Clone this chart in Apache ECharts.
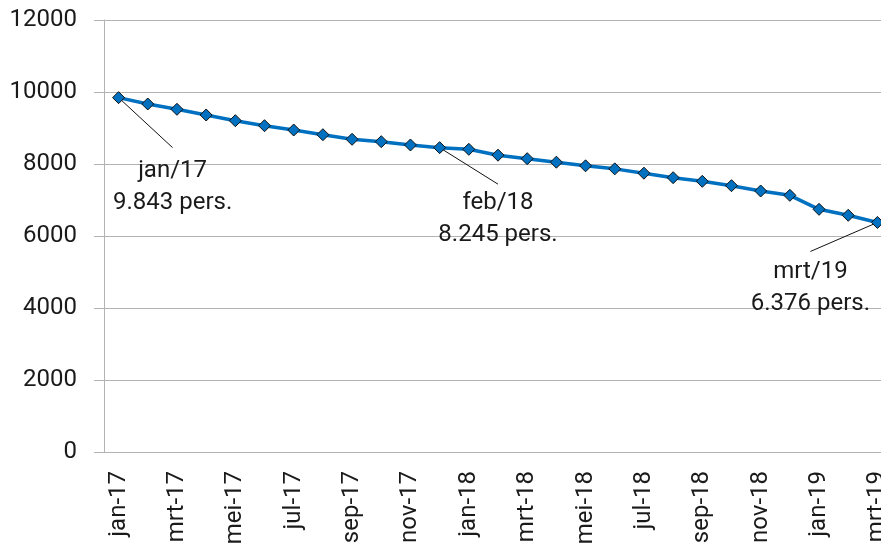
<!DOCTYPE html>
<html>
<head>
<meta charset="utf-8">
<script src="https://cdn.jsdelivr.net/npm/echarts@6/dist/echarts.min.js"></script>
<style>
  html, body { margin: 0; padding: 0; background: #fff; }
  #chart { width: 881px; height: 545px; }
</style>
</head>
<body>
<div id="chart"></div>
<script>
  const months = [
    'jan-17', 'feb-17', 'mrt-17', 'apr-17', 'mei-17', 'jun-17', 'jul-17', 'aug-17', 'sep-17',
    'okt-17', 'nov-17', 'dec-17', 'jan-18', 'feb-18', 'mrt-18', 'apr-18', 'mei-18', 'jun-18',
    'jul-18', 'aug-18', 'sep-18', 'okt-18', 'nov-18', 'dec-18', 'jan-19', 'feb-19', 'mrt-19'
  ]
  const persons = [
    9843, 9667, 9519, 9361, 9203, 9064, 8944, 8814, 8686,
    8620, 8528, 8454, 8408, 8245, 8148, 8050, 7950, 7865,
    7745, 7620, 7519, 7398, 7250, 7130, 6741, 6575, 6376
  ]
  const yMin = 0
  const yMax = 12000
  const yStep = 2000
  // months that get a callout label
  const calloutIdx = [0, 13, 26]
  // point each leader line starts from (the feb/18 one hooks onto dec-17 in the original)
  const leaderFrom = [0, 11, 26]

  // label centre offsets (px) from the labelled point
  const labelOffset = { 0: [54, 89], 13: [0, 64], 26: [-67, 66] }
  // leader line end offsets (px) from the labelled point
  const leaderOffset = { 0: [54, 50], 13: [0, 29], 26: [-67, 29] }

  const fmt = (v) => String(v).replace(/\B(?=(\d{3})+(?!\d))/g, '.')
  const textColor = '#1a1a1a'
  const gridColor = '#b3b3b3'
  const font = 'Roboto'
  const fontSize = 24

  const chart = echarts.init(document.getElementById('chart'))

  const seriesData = persons.map((v, i) => {
    if (!calloutIdx.includes(i)) return v
    return { value: v, label: { show: true } }
  })

  chart.setOption({
    animation: false,
    grid: { left: 104, top: 20, bottom: 93, right: -11, outerBoundsMode: 'none', containLabel: false },
    xAxis: {
      type: 'category',
      data: months,
      boundaryGap: true,
      axisLine: { lineStyle: { color: gridColor, width: 1 } },
      axisTick: { interval: 1, length: 6, lineStyle: { color: gridColor } },
      axisLabel: {
        interval: 1,
        rotate: 90,
        margin: 19,
        color: textColor,
        fontFamily: font,
        fontSize: fontSize,
        hideOverlap: false
      },
      splitLine: { show: false }
    },
    yAxis: {
      type: 'value',
      min: yMin,
      max: yMax,
      interval: yStep,
      axisLine: { show: true, lineStyle: { color: gridColor } },
      axisTick: { show: true, length: 10, lineStyle: { color: gridColor } },
      axisLabel: {
        color: textColor,
        fontFamily: font,
        fontSize: fontSize,
        margin: 27,
        formatter: (v) => String(v)
      },
      splitLine: { lineStyle: { color: gridColor, width: 1 } }
    },
    series: [
      {
        type: 'line',
        data: seriesData,
        symbol: 'diamond',
        symbolSize: 12,
        lineStyle: { color: '#0070C0', width: 3.5 },
        itemStyle: { color: '#0070C0', borderColor: '#111', borderWidth: 1 },
        label: {
          show: false,
          position: 'inside',
          color: textColor,
          fontFamily: font,
          fontSize: fontSize,
          lineHeight: 32,
          align: 'center',
          formatter: (p) => months[p.dataIndex].replace('-', '/') + '\n' + fmt(p.value) + ' pers.'
        },
        labelLayout: (params) => {
          const off = labelOffset[params.dataIndex]
          if (!off) return {}
          return { dx: off[0], dy: off[1] }
        },
        z: 3
      }
    ]
  })

  // leader lines from the point to the top of each label
  const leaders = calloutIdx.map((idx, k) => {
    const from = leaderFrom[k]
    const p0 = chart.convertToPixel({ seriesIndex: 0 }, [from, persons[from]])
    const p1 = chart.convertToPixel({ seriesIndex: 0 }, [idx, persons[idx]])
    const off = leaderOffset[idx]
    return {
      type: 'line',
      z: 2,
      silent: true,
      shape: { x1: p0[0], y1: p0[1], x2: p1[0] + off[0], y2: p1[1] + off[1] },
      style: { stroke: '#111', lineWidth: 1 }
    }
  })
  chart.setOption({ graphic: leaders })
</script>
</body>
</html>
